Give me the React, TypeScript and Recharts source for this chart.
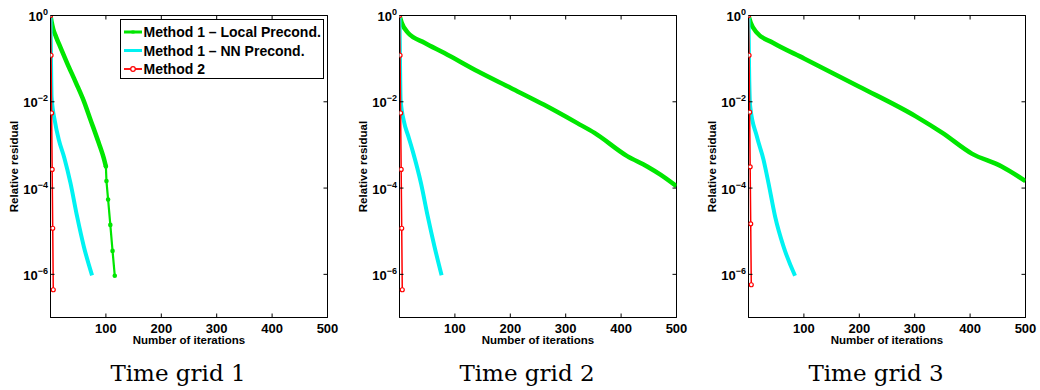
import { LineChart, Line, XAxis, YAxis, ReferenceArea, Legend } from "recharts";

// axis ticks & labels
const xTicks = [100, 200, 300, 400, 500];
const yTicks = [1, 1e-2, 1e-4, 1e-6];
const yTickExp = ["0", "−2", "−4", "−6"];
const seriesNames = ["Method 1 – Local Precond.", "Method 1 – NN Precond.", "Method 2"];
const captions = ["Time grid 1", "Time grid 2", "Time grid 3"];

// Time grid 1
const localIt1 = [0, 2, 5, 10, 17, 30, 46, 60, 72, 87, 96, 100, 101, 104, 108, 112, 116];
const localRes1 = [1, 0.71, 0.48, 0.32, 0.195, 0.079, 0.0275, 0.0105, 3.9e-3, 1.12e-3, 5.0e-4, 3.16e-4, 1.45e-4, 5.4e-5, 1.4e-5, 3.5e-6, 9.3e-7];
const nnIt1 = [0, 1, 2, 8, 15, 25, 36, 48, 60, 75];
const nnRes1 = [1, 0.071, 0.0126, 3.5e-3, 1.32e-3, 5.0e-4, 1.32e-4, 2.2e-5, 4.5e-6, 9.5e-7];
const m2It1 = [0, 1, 2, 3, 4, 5];
const m2Res1 = [1, 0.12, 5.5e-3, 2.7e-4, 1.17e-5, 4.4e-7];

// Time grid 2
const localIt2 = [0, 4, 15, 45, 81, 141, 201, 261, 321, 352, 411, 447, 471, 500];
const localRes2 = [1, 0.68, 0.4, 0.234, 0.135, 0.051, 0.0209, 8.5e-3, 3.2e-3, 1.9e-3, 5.5e-4, 3.16e-4, 2.04e-4, 1.1e-4];
const nnIt2 = [0, 1, 2, 8, 16, 24, 39, 51, 63, 76];
const nnRes2 = [1, 0.066, 0.0112, 3.5e-3, 1.58e-3, 7.1e-4, 1.26e-4, 2.2e-5, 4.5e-6, 9.5e-7];
const m2It2 = [0, 1, 2, 3, 4, 5];
const m2Res2 = [1, 0.12, 5.5e-3, 2.7e-4, 1.17e-5, 4.4e-7];

// Time grid 3
const localIt3 = [0, 4, 15, 44, 101, 200, 302, 350, 403, 457, 500];
const localRes3 = [1, 0.68, 0.4, 0.234, 0.1, 0.0224, 4.6e-3, 1.9e-3, 6.3e-4, 3.16e-4, 1.45e-4];
const nnIt3 = [0, 1, 3, 15, 27, 36, 48, 63, 84];
const nnRes3 = [1, 0.063, 7.9e-3, 1.58e-3, 4.6e-4, 1.32e-4, 2.2e-5, 4.5e-6, 9.3e-7];
const m2It3 = [0, 1, 2, 3, 4, 5];
const m2Res3 = [1, 0.12, 5.75e-3, 3.1e-4, 1.48e-5, 5.75e-7];

const zip = (its: number[], res: number[]) => its.map((it, i) => ({ it, r: res[i] }));

const panels = [
  { local: zip(localIt1, localRes1), nn: zip(nnIt1, nnRes1), m2: zip(m2It1, m2Res1) },
  { local: zip(localIt2, localRes2), nn: zip(nnIt2, nnRes2), m2: zip(m2It2, m2Res2) },
  { local: zip(localIt3, localRes3), nn: zip(nnIt3, nnRes3), m2: zip(m2It3, m2Res3) },
];

const GREEN = "#00e600";
const CYAN = "#00f2f2";
const RED = "#ff0000";
const FONT = '"Liberation Sans", Arial, Helvetica, sans-serif';

const W = 349;
const H = 348;
const MARGIN = { top: 15.5, right: 21.5, bottom: 0, left: 0 };
const Y_W = 50.5;
const X_H = 30.5;
const PW = W - MARGIN.left - MARGIN.right - Y_W;
const PH = H - MARGIN.top - MARGIN.bottom - X_H;
const TICK = 4;

function YTick(props: any) {
  const { x, y, payload } = props;
  const exp = yTickExp[yTicks.indexOf(payload.value)];
  return (
    <g>
      <line x1={x} x2={x + TICK} y1={y} y2={y} stroke="#000" />
      <line x1={x + PW} x2={x + PW - TICK} y1={y} y2={y} stroke="#000" />
      <text x={x - 2.5} y={y + 5.5} textAnchor="end" fontSize={13} fontWeight="bold" fill="#000" fontFamily={FONT}>
        10
        <tspan dy={-6} fontSize={9}>
          {exp}
        </tspan>
      </text>
    </g>
  );
}

function XTick(props: any) {
  const { x, y, payload } = props;
  return (
    <g>
      <line x1={x} x2={x} y1={y} y2={y - TICK} stroke="#000" />
      <line x1={x} x2={x} y1={y - PH} y2={y - PH + TICK} stroke="#000" />
      <text x={x} y={y + 15.5} textAnchor="middle" fontSize={13} fontWeight="bold" fill="#000" fontFamily={FONT}>
        {payload.value}
      </text>
    </g>
  );
}

const legendMarkers = ["dot", "dot", "circle"];

function LegendBox(props: any) {
  const items = (props.payload || []).filter((p: any) => p.type !== "none");
  return (
    <svg width={205} height={61} style={{ display: "block" }}>
      <rect x={0.5} y={0.5} width={203} height={59} fill="#fff" stroke="#000" />
      {items.map((e: any, i: number) => {
        const cy = 13 + i * 18.5;
        return (
          <g key={e.value}>
            <line x1={4} x2={22} y1={cy} y2={cy} stroke={e.color} strokeWidth={legendMarkers[i] === "circle" ? 1.8 : 3} />
            {legendMarkers[i] === "circle" ? (
              <circle cx={13} cy={cy} r={2.3} fill="#fff" stroke={e.color} strokeWidth={1.2} />
            ) : (
              <rect x={11.5} y={cy - 1.5} width={3} height={3} fill={e.color} />
            )}
            <text x={23.5} y={cy + 5} fontSize={14} fontWeight="bold" fill="#000" fontFamily={FONT}>
              {e.value}
            </text>
          </g>
        );
      })}
    </svg>
  );
}

function Panel({ data, showLegend }: { data: (typeof panels)[number]; showLegend: boolean }) {
  const last = data.local[data.local.length - 1].it;
  const body = data.local.filter((p) => p.it <= 100 || last >= 500);
  const tail = data.local.filter((p) => p.it >= 100 && last < 500);
  return (
    <LineChart width={W} height={H} margin={MARGIN}>
      <XAxis
        dataKey="it"
        type="number"
        domain={[0, 500]}
        ticks={xTicks}
        allowDataOverflow
        height={X_H}
        tickSize={0}
        tickMargin={0}
        tickLine={false}
        axisLine={{ stroke: "#000" }}
        tick={<XTick />}
        label={{
          value: "Number of iterations",
          position: "insideBottom",
          offset: 4,
          style: { fontSize: 11.5, fontWeight: "bold", fill: "#000", fontFamily: FONT },
        }}
      />
      <YAxis
        type="number"
        scale="log"
        domain={[1e-7, 1]}
        ticks={yTicks}
        allowDataOverflow
        width={Y_W}
        tickSize={0}
        tickMargin={0}
        tickLine={false}
        axisLine={{ stroke: "#000" }}
        tick={<YTick />}
        label={{
          value: "Relative residual",
          angle: -90,
          position: "insideLeft",
          offset: 13.5,
          style: { textAnchor: "middle", fontSize: 11.5, fontWeight: "bold", fill: "#000", fontFamily: FONT },
        }}
      />
      <ReferenceArea x1={0} x2={500} y1={1e-7} y2={1} fill="none" fillOpacity={0} stroke="#000" strokeWidth={1} />
      <Line
        data={body}
        dataKey="r"
        name={seriesNames[0]}
        type="monotone"
        stroke={GREEN}
        strokeWidth={4.5}
        dot={false}
        isAnimationActive={false}
      />
      {tail.length > 0 && (
        <Line
          data={tail}
          dataKey="r"
          name="local-tail"
          legendType="none"
          type="linear"
          stroke={GREEN}
          strokeWidth={2.2}
          dot={{ r: 1.2, fill: GREEN, stroke: GREEN }}
          isAnimationActive={false}
        />
      )}
      <Line
        data={data.nn}
        dataKey="r"
        name={seriesNames[1]}
        type="monotone"
        stroke={CYAN}
        strokeWidth={4}
        dot={false}
        isAnimationActive={false}
      />
      <Line
        data={data.m2}
        dataKey="r"
        name={seriesNames[2]}
        type="linear"
        stroke={RED}
        strokeWidth={1.5}
        dot={{ r: 2, fill: "#fff", stroke: RED, strokeWidth: 1.2 }}
        isAnimationActive={false}
      />
      {showLegend && (
        <Legend
          layout="horizontal"
          verticalAlign="middle"
          align="center"
          content={<LegendBox />}
          wrapperStyle={{ position: "absolute", left: 119.5, top: 18.5, width: 205, height: 61 }}
        />
      )}
    </LineChart>
  );
}

export default function App() {
  return (
    <div style={{ position: "absolute", left: 0, top: 0, width: 1040, height: 390, background: "#fff" }}>
      {panels.map((p, i) => (
        <div key={i} style={{ position: "absolute", left: i * W, top: 0 }}>
          <Panel data={p} showLegend={i === 0} />
        </div>
      ))}
      {captions.map((c, i) => (
        <div
          key={c}
          style={{
            position: "absolute",
            left: i * W + 3.5,
            top: 360,
            width: W,
            textAlign: "center",
            fontFamily: '"DejaVu Serif", serif',
            fontSize: 23,
            lineHeight: "26px",
            color: "#000",
          }}
        >
          {c}
        </div>
      ))}
    </div>
  );
}
